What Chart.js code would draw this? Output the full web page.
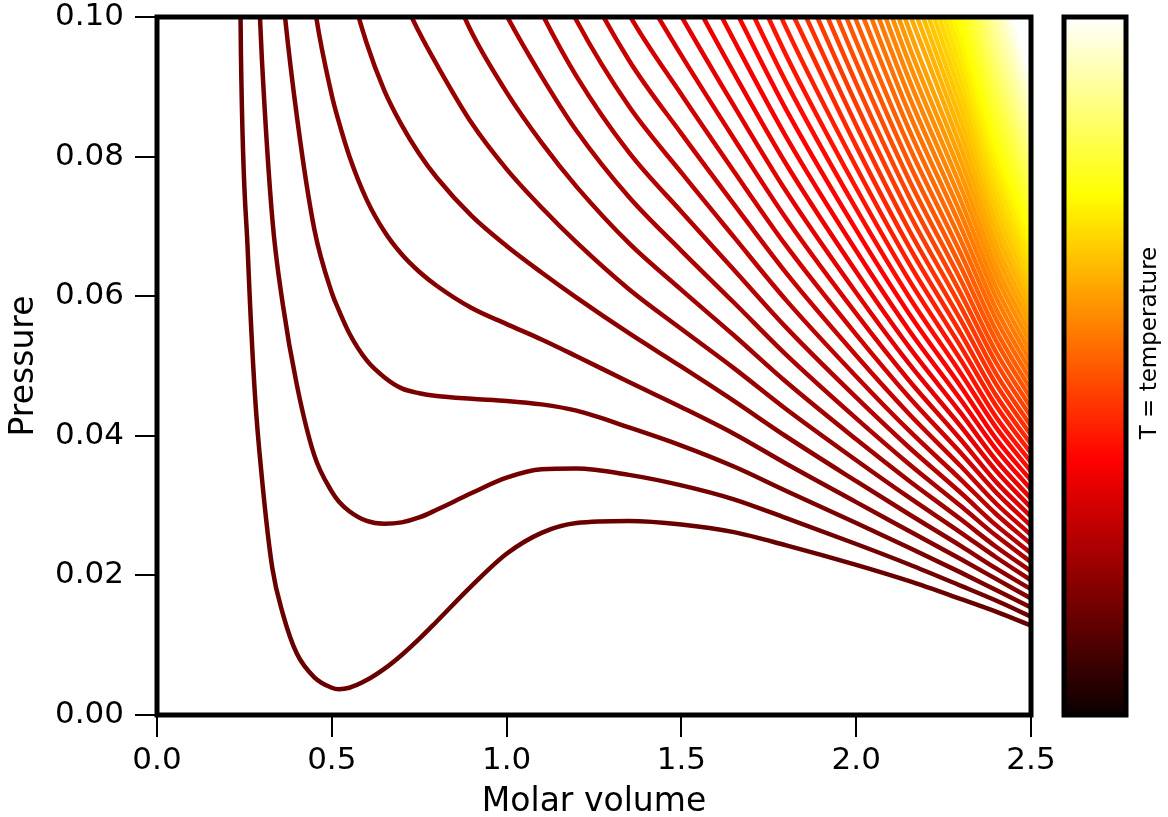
<!DOCTYPE html>
<html><head><meta charset="utf-8">
<script src="https://cdn.jsdelivr.net/npm/chart.js@4.4.0/dist/chart.umd.min.js"></script>
<style>html,body{margin:0;padding:0;background:#fff;overflow:hidden}#wrap{width:1168px;height:817px;position:relative}</style>
</head><body><div id="wrap"><canvas id="c" width="1168" height="817"></canvas></div>
<script>
const volumes = [0.22,0.24,0.26,0.28,0.30,0.33,0.36,0.40,0.45,0.50,0.52,0.55,0.60,0.65,0.70,0.75,0.80,0.90,1.00,1.10,1.20,1.35,1.50,1.65,1.80,2.00,2.15,2.30,2.40,2.50];
const pressureTicks = [0,0.02,0.04,0.06,0.08,0.10];
const volumeTicks = [0,0.5,1.0,1.5,2.0,2.5];
const xTitle = 'Molar volume';
const yTitle = 'Pressure';
const colorbarLabel = 'T = temperature';
// each isotherm lists pressures for the last entries of `volumes`
const lowerIsotherms = [
[0.2,0.095,0.066,0.046,0.034,0.021,0.0145,0.0088,0.0054,0.0039,0.0037,0.0039,0.005,0.0066,0.0086,0.0109,0.0134,0.0185,0.0231,0.0261,0.0275,0.0278,0.0273,0.0262,0.0243,0.0215,0.0192,0.0166,0.0148,0.0128],
[0.144,0.116,0.094,0.071,0.0588,0.0473,0.0372,0.032,0.0306,0.0292,0.0278,0.0274,0.0276,0.0283,0.0294,0.0318,0.034,0.0352,0.0353,0.0344,0.0329,0.0309,0.0282,0.0245,0.0216,0.0185,0.0164,0.0141],
[0.121,0.1031,0.0858,0.0696,0.0605,0.058,0.0547,0.0508,0.0484,0.0468,0.0461,0.0457,0.0453,0.045,0.0445,0.0436,0.0412,0.0386,0.0356,0.0321,0.0275,0.024,0.0204,0.0179,0.0154],
[0.1243,0.1018,0.0888,0.085,0.0801,0.0738,0.0693,0.066,0.0635,0.0615,0.0583,0.056,0.0538,0.0514,0.0477,0.0441,0.0403,0.036,0.0305,0.0264,0.0223,0.0195,0.0167],
[0.1171,0.112,0.105,0.0962,0.0895,0.0845,0.0804,0.077,0.0715,0.0672,0.0634,0.0598,0.0547,0.0499,0.045,0.0399,0.0335,0.0288,0.0242,0.021,0.018],
[0.1198,0.1105,0.1032,0.0978,0.0932,0.0848,0.0782,0.0727,0.0677,0.061,0.0553,0.0497,0.0438,0.0365,0.0312,0.0261,0.0226,0.0193],
[0.1222,0.1152,0.1092,0.0978,0.0892,0.082,0.0757,0.0676,0.0609,0.0544,0.0477,0.0395,0.0336,0.028,0.0241,0.0206],
[0.1102,0.1002,0.0915,0.0837,0.0742,0.0665,0.0591,0.0516,0.0425,0.036,0.0299,0.0257,0.0219],
[0.1112,0.1006,0.0915,0.0806,0.0721,0.0638,0.0555,0.0455,0.0384,0.0318,0.0272,0.0232],
[0.1222,0.1099,0.0995,0.0872,0.0777,0.0685,0.0594,0.0485,0.0408,0.0337,0.0288,0.0245],
[0.1192,0.1075,0.0938,0.0833,0.0732,0.0633,0.0515,0.0432,0.0356,0.0303,0.0258],
[0.1155,0.1004,0.0889,0.0779,0.0672,0.0545,0.0456,0.0375,0.0319,0.0271],
[0.107,0.0945,0.0826,0.0711,0.0575,0.048,0.0394,0.0334,0.0284],
[0.1136,0.1001,0.0873,0.075,0.0605,0.0504,0.0413,0.035,0.0297]
];
const upperIsotherms = [
[0.1057,0.092,0.0789,0.0635,0.0528,0.0432,0.0365,0.031],
[0.1113,0.0967,0.0828,0.0665,0.0552,0.0451,0.0381,0.0323],
[0.1014,0.0867,0.0695,0.0576,0.047,0.0396,0.0336],
[0.1061,0.0906,0.0725,0.06,0.0489,0.0412,0.0349],
[0.1108,0.0945,0.0755,0.0624,0.0508,0.0427,0.0362],
[0.1155,0.0984,0.0785,0.0648,0.0527,0.0443,0.0375],
[0.1023,0.0815,0.0672,0.0546,0.0458,0.0388],
[0.1062,0.0845,0.0696,0.0565,0.0474,0.0401],
[0.1101,0.0875,0.072,0.0584,0.0489,0.0414],
[0.114,0.0905,0.0744,0.0603,0.0505,0.0427],
[0.1179,0.0935,0.0768,0.0622,0.052,0.044],
[0.1218,0.0965,0.0792,0.0641,0.0536,0.0453],
[0.1257,0.0995,0.0816,0.066,0.0551,0.0466],
[0.1025,0.084,0.0679,0.0567,0.0479],
[0.1055,0.0864,0.0698,0.0582,0.0492],
[0.1085,0.0888,0.0717,0.0598,0.0505],
[0.1115,0.0912,0.0736,0.0613,0.0518],
[0.1145,0.0936,0.0755,0.0629,0.0531],
[0.1175,0.096,0.0774,0.0644,0.0544],
[0.1205,0.0984,0.0793,0.066,0.0557],
[0.1008,0.0812,0.0675,0.057],
[0.1032,0.0831,0.0691,0.0583],
[0.1056,0.085,0.0706,0.0596],
[0.108,0.0869,0.0722,0.0609],
[0.1104,0.0888,0.0737,0.0622],
[0.1128,0.0907,0.0753,0.0635],
[0.1152,0.0926,0.0768,0.0648],
[0.1176,0.0945,0.0784,0.0661],
[0.12,0.0964,0.0799,0.0674],
[0.1224,0.0983,0.0815,0.0687],
[0.1002,0.083,0.07],
[0.1021,0.0846,0.0713],
[0.104,0.0861,0.0726],
[0.1059,0.0877,0.0739],
[0.1078,0.0892,0.0752],
[0.1097,0.0908,0.0765],
[0.1116,0.0923,0.0778],
[0.1135,0.0939,0.0791],
[0.1154,0.0954,0.0804],
[0.1173,0.097,0.0817],
[0.1192,0.0985,0.083],
[0.1211,0.1001,0.0843],
[0.1016,0.0856],
[0.1032,0.0869],
[0.1047,0.0882],
[0.1063,0.0895],
[0.1078,0.0908],
[0.1094,0.0921],
[0.1109,0.0934],
[0.1125,0.0947],
[0.114,0.096],
[0.1156,0.0973],
[0.1171,0.0986],
[0.1187,0.0999]
];

function hot(t){
  const cl = v => Math.max(0, Math.min(1, v));
  const r = cl(0.0416 + (1 - 0.0416) * t / 0.365079);
  const g = cl((t - 0.365079) / (0.746032 - 0.365079));
  const b = cl((t - 0.746032) / (1 - 0.746032));
  return `rgb(${Math.round(r*255)},${Math.round(g*255)},${Math.round(b*255)})`;
}

const curves = lowerIsotherms.concat(upperIsotherms);
const N = curves.length;
const COLOR_SPAN = 61;
const datasets = curves.map((row, k) => {
  const off = volumes.length - row.length;
  return {
    data: row.map((p, i) => ({x: volumes[off + i], y: p})),
    borderColor: hot(Math.min(1, 0.14 + 0.86 * k / COLOR_SPAN)),
    borderWidth: 4.5,
    pointRadius: 0,
    fill: false,
    cubicInterpolationMode: 'monotone',
    clip: 0,
    order: N - 1 - k
  };
});

const FONT = 'DejaVu Sans';
const framePlugin = {
  id: 'frame',
  afterDraw(chart){
    const {ctx, chartArea: a} = chart;
    ctx.save();
    ctx.strokeStyle = '#000';
    ctx.lineWidth = 5;
    ctx.strokeRect(a.left, a.top, a.right - a.left, a.bottom - a.top);
    const x0 = a.right + 33, x1 = a.right + 95;
    const g = ctx.createLinearGradient(0, a.bottom, 0, a.top);
    g.addColorStop(0, 'rgb(11,0,0)');
    g.addColorStop(0.365079, 'rgb(255,0,0)');
    g.addColorStop(0.746032, 'rgb(255,255,0)');
    g.addColorStop(1, 'rgb(255,255,255)');
    ctx.fillStyle = g;
    ctx.fillRect(x0, a.top, x1 - x0, a.bottom - a.top);
    ctx.strokeRect(x0, a.top, x1 - x0, a.bottom - a.top);
    ctx.translate(x1 + 24, (a.top + a.bottom) / 2 - 23);
    ctx.rotate(-Math.PI / 2);
    ctx.font = `23px "${FONT}"`;
    ctx.fillStyle = '#000';
    ctx.textAlign = 'center';
    ctx.textBaseline = 'middle';
    ctx.fillText(colorbarLabel, 0, 0);
    ctx.restore();
  }
};

new Chart(document.getElementById('c'), {
  type: 'line',
  data: {datasets},
  options: {
    animation: false,
    responsive: false,
    devicePixelRatio: 1,
    layout: {padding: {left: 0, top: 17, right: 137, bottom: 0}},
    plugins: {legend: {display: false}, tooltip: {enabled: false}},
    scales: {
      x: {
        type: 'linear', min: 0, max: 2.5,
        afterBuildTicks: s => { s.ticks = volumeTicks.map(v => ({value: v})); },
        afterFit: s => { s.height = 102; s.paddingLeft = 0; s.paddingRight = 0; },
        ticks: {color: '#000', font: {family: FONT, size: 31}, padding: 5, maxRotation: 0, autoSkip: false,
                callback: v => Number(v).toFixed(1)},
        grid: {drawOnChartArea: false, drawTicks: true, tickLength: 22, lineWidth: 2, color: '#000'},
        border: {display: false},
        title: {display: true, text: xTitle, color: '#000', font: {family: FONT, size: 33}, padding: {top: 0, bottom: -5}}
      },
      y: {
        type: 'linear', min: 0, max: 0.1,
        afterBuildTicks: s => { s.ticks = pressureTicks.map(v => ({value: v})); },
        afterFit: s => { s.width = 157; s.paddingTop = 0; s.paddingBottom = 0; },
        ticks: {color: '#000', font: {family: FONT, size: 31}, padding: 11, autoSkip: false,
                callback: v => Number(v).toFixed(2)},
        grid: {drawOnChartArea: false, drawTicks: true, tickLength: 22, lineWidth: 2, color: '#000'},
        border: {display: false},
        title: {display: true, text: yTitle, color: '#000', font: {family: FONT, size: 33}, padding: {top: 5, bottom: 0}}
      }
    }
  },
  plugins: [framePlugin]
});
</script></body></html>
